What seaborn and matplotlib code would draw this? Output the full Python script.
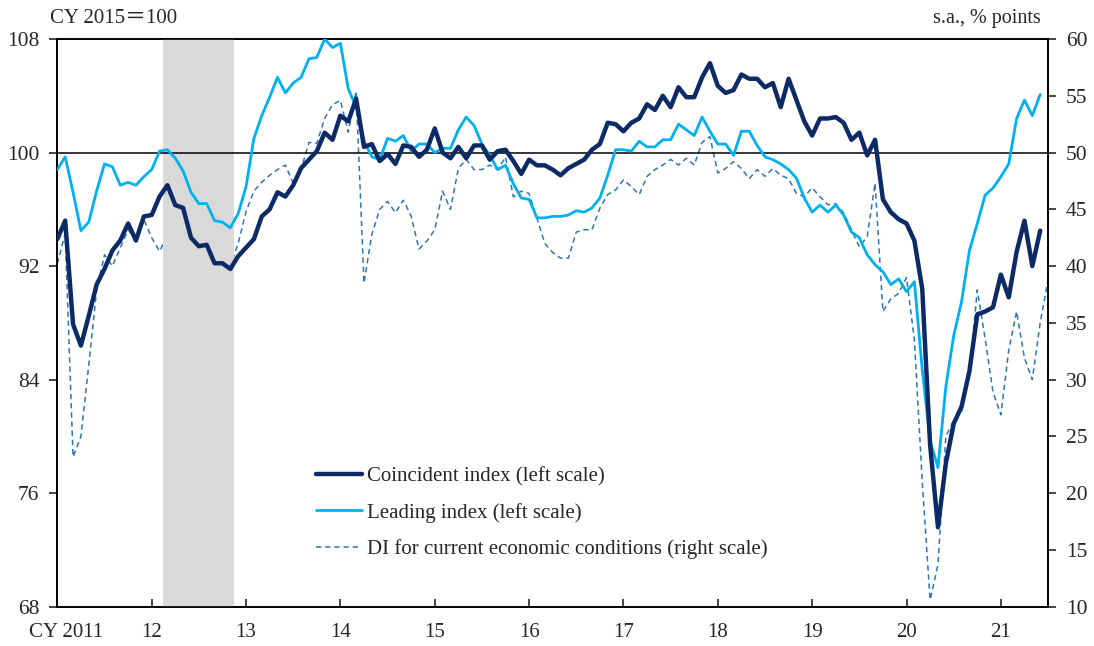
import numpy as np
import pandas as pd
import seaborn as sns
import matplotlib.pyplot as plt
from matplotlib.transforms import ScaledTranslation

# Monthly series, Jan 2011 onwards (month index 0 = Jan 2011)
coincident = [
    93.9, 95.2, 87.9, 86.4, 88.5, 90.7, 91.8, 93.1, 93.8, 95.0, 93.8, 95.5,
    95.6, 96.9, 97.7, 96.3, 96.1, 94.0, 93.4, 93.5, 92.2, 92.2, 91.8, 92.7,
    93.3, 93.9, 95.5, 96.0, 97.2, 96.9, 97.7, 98.9, 99.5, 100.1, 101.4, 100.9,
    102.6, 102.2, 103.8, 100.4, 100.6, 99.4, 99.9, 99.2, 100.5, 100.4, 99.7, 100.2,
    101.7, 100.0, 99.6, 100.4, 99.6, 100.5, 100.5, 99.5, 100.1, 100.2, 99.4, 98.5,
    99.5, 99.1, 99.1, 98.8, 98.4, 98.9, 99.2, 99.5, 100.2, 100.6, 102.1, 102.0,
    101.5, 102.1, 102.4, 103.4, 103.0, 104.0, 103.2, 104.6, 103.9, 103.9, 105.3, 106.3,
    104.7, 104.2, 104.4, 105.5, 105.2, 105.2, 104.6, 104.9, 103.2, 105.2, 103.7, 102.2,
    101.2, 102.4, 102.4, 102.5, 102.1, 100.9, 101.4, 99.8, 100.9, 96.7, 95.8, 95.3,
    95.0, 93.8, 90.4, 79.4, 73.6, 78.1, 80.9, 82.1, 84.6, 88.6, 88.8, 89.1,
    91.4, 89.8, 93.0, 95.2, 92.0, 94.5,
]
leading = [
    98.8, 99.7, 97.2, 94.5, 95.1, 97.3, 99.2, 99.0, 97.7, 97.9, 97.7, 98.3,
    98.8, 100.1, 100.2, 99.6, 98.7, 97.2, 96.4, 96.4, 95.2, 95.1, 94.7, 95.7,
    97.6, 101.0, 102.6, 103.9, 105.3, 104.2, 104.9, 105.3, 106.6, 106.7, 108.0, 107.4,
    107.7, 104.5, 103.2, 100.8, 99.7, 99.5, 101.0, 100.8, 101.2, 100.1, 100.6, 100.6,
    100.0, 100.3, 100.3, 101.6, 102.5, 101.9, 100.6, 99.8, 98.8, 99.1, 97.8, 96.8,
    96.7, 95.4, 95.4, 95.5, 95.5, 95.6, 95.9, 95.8, 96.1, 96.8, 98.4, 100.2,
    100.2, 100.1, 100.8, 100.4, 100.4, 100.9, 100.9, 102.0, 101.6, 101.2, 102.5, 101.5,
    100.6, 100.6, 99.8, 101.5, 101.5, 100.5, 99.7, 99.5, 99.2, 98.8, 98.2, 96.8,
    95.8, 96.3, 95.8, 96.3, 95.6, 94.4, 94.0, 92.8, 92.1, 91.6, 90.7, 91.1,
    90.2, 90.9, 84.7, 79.7, 77.8, 83.5, 87.1, 89.5, 93.1, 95.0, 97.0, 97.5,
    98.3, 99.2, 102.4, 103.7, 102.6, 104.1,
]
# DI runs one month longer (to Jul 2021)
di_current = [
    40.2, 42.9, 23.2, 25.0, 31.3, 37.9, 41.0, 40.0, 41.6, 43.2, 42.3, 44.1,
    42.5, 41.3, 42.7, 43.0, 40.8, 38.3, 38.4, 40.1, 38.6, 37.7, 40.0, 42.0,
    44.8, 46.6, 47.4, 48.0, 48.5, 48.9, 47.3, 48.5, 50.9, 50.8, 53.0, 54.2,
    54.6, 51.8, 55.4, 38.5, 42.8, 45.0, 45.7, 44.7, 45.8, 44.4, 41.5, 42.2,
    43.2, 46.6, 45.0, 48.6, 49.4, 48.5, 48.5, 48.9, 48.5, 49.6, 46.1, 46.6,
    46.4, 44.2, 42.0, 41.2, 40.7, 40.7, 43.0, 43.2, 43.2, 45.1, 46.3, 46.7,
    47.6, 47.0, 46.3, 47.9, 48.5, 48.9, 49.4, 48.9, 49.5, 48.9, 50.9, 51.4,
    48.2, 48.6, 49.2, 48.6, 47.7, 48.5, 47.9, 48.6, 48.0, 47.7, 46.4, 46.1,
    46.9, 46.1, 45.4, 45.5, 44.7, 43.2, 41.7, 42.6, 47.3, 36.0, 37.1, 37.6,
    39.0, 33.5, 21.0, 10.6, 13.7, 25.0, 26.4, 27.2, 30.6, 37.9, 33.6, 28.9,
    26.9, 32.6, 36.0, 31.9, 30.0, 35.0, 38.8,
]

year_ticks = [0, 12, 24, 36, 48, 60, 72, 84, 96, 108, 120]
year_labels = ['CY 2011', '12', '13', '14', '15', '16', '17', '18', '19', '20', '21']
recession = (13.5, 22.5)  # Mar 2012 - Nov 2012

ci_df = pd.DataFrame({'month': np.arange(len(coincident)),
                      'coincident': coincident, 'leading': leading})
di_df = pd.DataFrame({'month': np.arange(len(di_current)), 'di': di_current})

sns.set_style('ticks')
plt.rcParams['font.family'] = ['Liberation Serif', 'Noto Sans CJK JP']
plt.rcParams['axes.linewidth'] = 1.2

fig = plt.figure(figsize=(10.94, 6.46), dpi=100)
ax = fig.add_axes([0.0524, 0.0608, 0.9056, 0.8788])
ax2 = ax.twinx()

ax.axvspan(*recession, color='#d9d9d9', lw=0, zorder=0)
ax.axhline(100, color='black', lw=1.1, zorder=1)

sns.lineplot(data=di_df, x='month', y='di', ax=ax2, color='#2e75b6', lw=1.1,
             linestyle=(0, (3.5, 2.5)), label='DI for current economic conditions (right scale)',
             legend=False)
sns.lineplot(data=ci_df, x='month', y='leading', ax=ax, color='#00b0f0', lw=2.0,
             label='Leading index (left scale)', legend=False, zorder=3)
sns.lineplot(data=ci_df, x='month', y='coincident', ax=ax, color='#0b2a66', lw=3.2,
             label='Coincident index (left scale)', legend=False, zorder=4)

# keep the left-scale lines above the dashed DI line
ax.set_zorder(ax2.get_zorder() + 1)
ax.patch.set_visible(False)

ax.set_xlim(0, 126)
ax.set_ylim(68, 108)
ax2.set_ylim(10, 60)
ax.set_yticks(np.arange(68, 109, 8))
ax2.set_yticks(np.arange(10, 61, 5))
ax.set_xticks(year_ticks)
ax.set_xticklabels(year_labels)
ax.set_xlabel('')
ax.set_ylabel('')
ax2.set_ylabel('')

for a in (ax, ax2):
    for s in a.spines.values():
        s.set_visible(True)
        s.set_color('black')
ax.tick_params(axis='x', direction='in', length=6, width=1.2, labelsize=15, pad=12)
ax.tick_params(axis='y', direction='out', length=6, width=1.2, labelsize=15.5, pad=7)
ax2.tick_params(axis='y', direction='out', length=6, width=1.2, labelsize=15.5, pad=7)

# nudge the first year label a little to the right, as in the original
first = ax.get_xticklabels()[0]
first.set_transform(first.get_transform() + ScaledTranslation(6 / 72, 0, fig.dpi_scale_trans))

fig.text(0.0457, 0.971, 'CY 2015\uff1d100', fontsize=15, va='center', ha='left')
fig.text(0.9516, 0.971, 's.a., % points', fontsize=14.5, va='center', ha='right')

h1, l1 = ax.get_legend_handles_labels()
h2, l2 = ax2.get_legend_handles_labels()
handles = [h1[1], h1[0], h2[0]]
labels = [l1[1], l1[0], l2[0]]
ax.legend(handles, labels, loc='upper left', bbox_to_anchor=(0.261, 0.247),
          frameon=False, fontsize=15, handlelength=2.2, handletextpad=0.25,
          labelspacing=0.8, borderpad=0, borderaxespad=0)

plt.savefig('out.png', dpi=100)
